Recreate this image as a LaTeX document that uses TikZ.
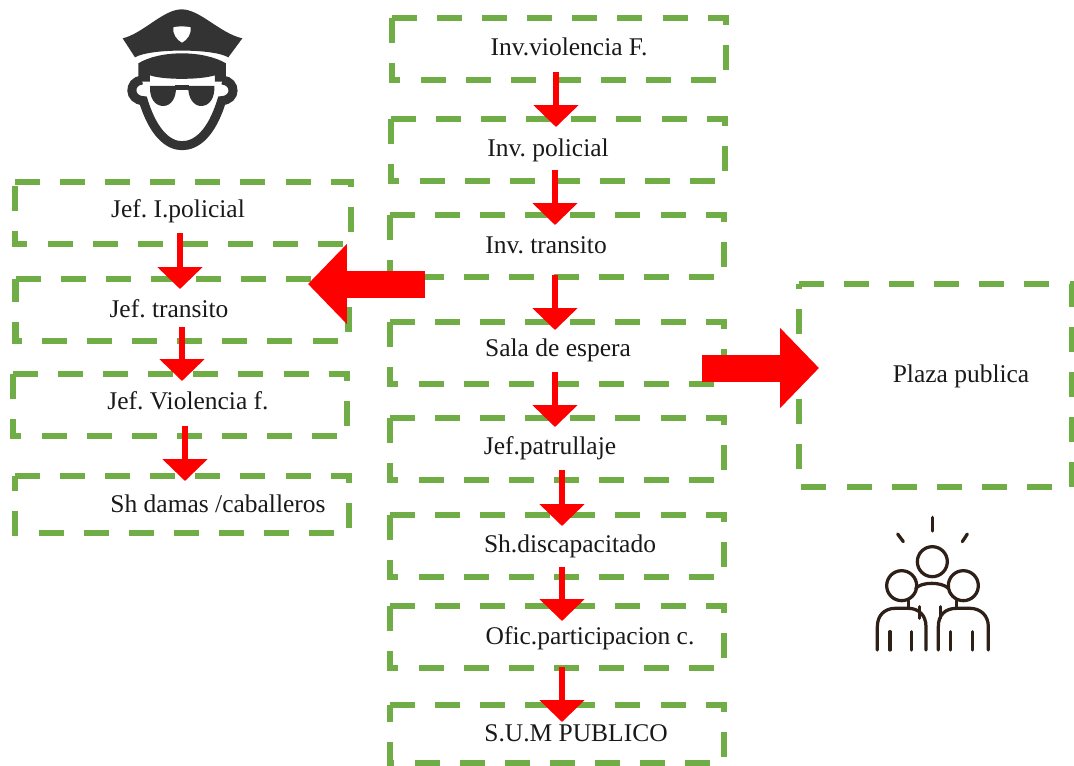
\documentclass[tikz,border=0pt]{standalone}
\usepackage{fontspec}
\setmainfont{Liberation Serif}
\frenchspacing
\usetikzlibrary{arrows.meta, calc}
\definecolor{cajaverde}{HTML}{70AD47}
\definecolor{iconogris}{HTML}{333333}
\definecolor{iconocafe}{HTML}{2E1F17}
\tikzset{caja/.style={rectangle, inner sep=0pt, outer sep=0pt, minimum width=6.68cm, minimum height=1.24cm}}
\tikzset{trazo/.style={draw=cajaverde, line width=.13cm, dash pattern=on .5cm off .402cm}}
\tikzset{rotulo/.style={font=\fontsize{14.5}{16}\selectfont, inner sep=0pt, text height=.3cm, text depth=.09cm, text=black!90}}
\tikzset{flecha/.style={draw=red, line width=.13cm, -{Triangle[width=.88cm, length=.44cm, fill=red]}}}
\tikzset{flechota/.style={draw=red, line width=.54cm, -{Triangle[width=1.56cm, length=.78cm, fill=red]}}}
\tikzset{gente/.style={draw=iconocafe, line width=.065cm, line cap=round}}

\begin{document}
\begin{tikzpicture}[x=.02cm, y=-.02cm]
\useasboundingbox (0,0) rectangle (1074,765);

% columna central
\node [caja] (inv1) at (559, 49) {};
\node [caja] (inv2) at (558, 150) {};
\node [caja] (inv3) at (557, 246) {};
\node [caja] (sala) at (557, 353) {};
\node [caja] (jefp) at (557, 449) {};
\node [caja] (shd) at (557, 546) {};
\node [caja] (ofic) at (557, 637) {};
\node [caja, minimum height=1.16cm] (sum) at (557, 734) {};

% columna izquierda
\node [caja, minimum width=6.72cm] (jef1) at (183, 213) {};
\node [caja, minimum width=6.66cm] (jef2) at (182, 310) {};
\node [caja] (jef3) at (180, 405) {};
\node [caja, minimum height=1.14cm] (shdc) at (182, 504.5) {};

% plaza
\node [caja, minimum width=5.46cm, minimum height=4.06cm] (plaza) at (935.5, 385.5) {};

\foreach \n in {inv1, inv2, inv3, sala, jefp, shd, ofic, sum, jef1, jef2, jef3, shdc, plaza}
    \draw [trazo] (\n.north west) -- (\n.north east) -- (\n.south east) -- (\n.south west) -- cycle;

\node [rotulo] (tinv1) at (569, 50) {Inv.violencia F.};
\node [rotulo] (tinv2) at (548, 151) {Inv. policial};
\node [rotulo] (tinv3) at (546, 248) {Inv. transito};
\node [rotulo] (tsala) at (558, 351) {Sala de espera};
\node [rotulo] (tjefp) at (550, 449) {Jef.patrullaje};
\node [rotulo] (tshd) at (570, 547) {Sh.discapacitado};
\node [rotulo] (tofic) at (590, 639) {Ofic.participacion c.};
\node [rotulo] (tsum) at (576, 736) {S.U.M PUBLICO};
\node [rotulo] (tjef1) at (178, 212) {Jef. I.policial};
\node [rotulo] (tjef2) at (169, 312) {Jef. transito};
\node [rotulo] (tjef3) at (188, 404) {Jef. Violencia f.};
\node [rotulo] (tshdc) at (218, 507) {Sh damas /caballeros};
\node [rotulo] (tplaza) at (961, 377) {Plaza publica};

\draw [flecha] ($(inv1.south)+(-3,-8)$) -- ($(inv2.north)+(-2,8)$);
\draw [flecha] ($(inv2.south)+(-3,-11)$) -- ($(inv3.north)+(-2,10)$);
\draw [flecha] ($(inv3.south)+(-2,-2)$) -- ($(sala.north)+(-2,8)$);
\draw [flecha] ($(sala.south)+(-2,-12)$) -- ($(jefp.north)+(-2,9)$);
\draw [flecha] ($(jefp.south)+(5,-10)$) -- ($(shd.north)+(5,11)$);
\draw [flecha] ($(shd.south)+(5,-10)$) -- ($(ofic.north)+(5,15)$);
\draw [flecha] ($(ofic.south)+(5,-1)$) -- ($(sum.north)+(5,17)$);
\draw [flecha] ($(jef1.south)+(-3,-11)$) -- ($(jef2.north)+(-2,10)$);
\draw [flecha] ($(jef2.south)+(0,-14)$) -- ($(jef3.north)+(2,7)$);
\draw [flecha] ($(jef3.south)+(5,-10)$) -- ($(shdc.north)+(3,5)$);

\coordinate (salei) at (425, 284);
\coordinate (llegai) at (308, 284);
\coordinate (saled) at (702, 368);
\coordinate (llegad) at (819, 368);
\draw [flechota] (salei) -- (llegai);
\draw [flechota] (saled) -- (llegad);

% policia
\begin{scope}[shift={(100,0)}, scale=.3333]
    \fill [iconogris] (68,115) .. controls (130,100) and (190,28) .. (245,28) .. controls (300,28) and (360,100) .. (427,115) -- (385,172) .. controls (340,145) and (150,145) .. (105,172) -- cycle;
    \fill [white] (220,82) .. controls (235,78) and (255,78) .. (272,82) .. controls (275,100) and (262,120) .. (246,128) .. controls (230,120) and (217,100) .. (220,82) -- cycle;
    \fill [iconogris] (115,190) .. controls (180,150) and (310,150) .. (378,190) -- (378,245) -- (345,245) -- (345,226) .. controls (300,240) and (190,240) .. (150,226) -- (150,245) -- (115,245) -- cycle;
    \draw [iconogris, line width=.18cm] (125,240) .. controls (85,245) and (85,300) .. (130,302) .. controls (160,400) and (205,437) .. (246,437) .. controls (290,437) and (335,400) .. (365,302) .. controls (410,300) and (410,245) .. (368,240);
    \fill [iconogris] (150,258) -- (228,258) .. controls (230,295) and (212,318) .. (190,318) .. controls (165,318) and (148,295) .. (150,258) -- cycle;
    \fill [iconogris] (265,258) -- (343,258) .. controls (345,295) and (328,318) .. (303,318) .. controls (282,318) and (263,295) .. (265,258) -- cycle;
    \draw [iconogris, line width=.1cm] (225,264) -- (268,264);
\end{scope}

% publico
\begin{scope}[shift={(860,510)}, scale=.3333]
    \draw [gente] (217,22) -- (217,63);
    \draw [gente] (113,72) -- (130,95);
    \draw [gente] (322,72) -- (307,95);
    \draw [gente] (217,155) circle (45);
    \draw [gente] (125,227) circle (45);
    \draw [gente] (310,227) circle (45);
    \draw [gente] (167,235) .. controls (185,215) and (245,215) .. (265,235);
    \draw [gente] (52,420) -- (52,350) .. controls (52,315) and (75,295) .. (105,295) -- (145,295) .. controls (175,295) and (198,315) .. (198,350) -- (198,420);
    \draw [gente] (235,420) -- (235,350) .. controls (235,315) and (255,295) .. (290,295) -- (330,295) .. controls (360,295) and (385,315) .. (385,350) -- (385,420);
    \draw [gente] (145,272) -- (145,295);
    \draw [gente] (290,272) -- (290,295);
    \draw [gente] (178,290) -- (178,325);
    \draw [gente] (242,290) -- (242,325);
    \draw [gente] (90,365) -- (90,420);
    \draw [gente] (155,365) -- (155,420);
    \draw [gente] (272,365) -- (272,420);
    \draw [gente] (338,365) -- (338,420);
\end{scope}

\end{tikzpicture}
\end{document}
